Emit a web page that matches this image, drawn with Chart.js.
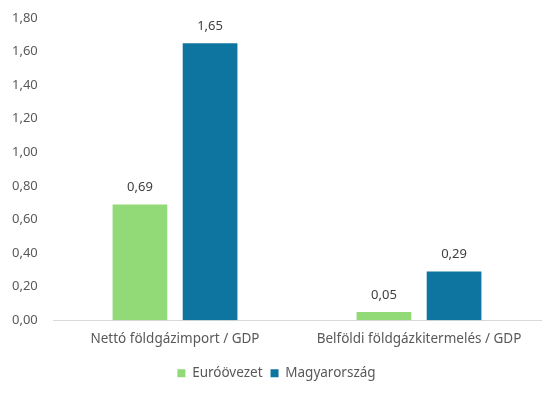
<!DOCTYPE html>
<html>
<head>
<meta charset="utf-8">
<script src="https://cdn.jsdelivr.net/npm/chart.js@4"></script>
<style>
  html, body { margin: 0; padding: 0; background: #fff; }
  #wrap { width: 559px; height: 396px; }
</style>
</head>
<body>
<div id="wrap"><canvas id="chart-gas"></canvas></div>
<script>
const categories   = ['Nettó földgázimport / GDP', 'Belföldi földgázkitermelés / GDP'];
const seriesNames  = ['Euróövezet', 'Magyarország'];
const euroArea     = [0.69, 0.05];
const hungary      = [1.65, 0.29];
const yTicks       = [0, 0.2, 0.4, 0.6, 0.8, 1.0, 1.2, 1.4, 1.6, 1.8];

const FONT = "'Noto Sans', sans-serif";
const fmt = v => v.toFixed(2).replace('.', ',');

// value labels above bars
const barLabels = {
  id: 'barLabels',
  afterDatasetsDraw(chart) {
    const c = chart.ctx;
    c.save();
    c.font = `13px ${FONT}`;
    c.fillStyle = '#404040';
    c.textAlign = 'center';
    c.textBaseline = 'middle';
    chart.data.datasets.forEach((ds, i) => {
      chart.getDatasetMeta(i).data.forEach((bar, j) => {
        c.fillText(fmt(ds.data[j]), bar.x, bar.y - 17);
      });
    });
    c.restore();
  }
};

const ctx = document.getElementById('chart-gas');
new Chart(ctx, {
  type: 'bar',
  data: {
    labels: categories,
    datasets: [
      { label: seriesNames[0], data: euroArea, backgroundColor: '#92D977' },
      { label: seriesNames[1], data: hungary,  backgroundColor: '#0E75A0' },
    ]
  },
  plugins: [barLabels],
  options: {
    responsive: true,
    maintainAspectRatio: false,
    animation: false,
    categoryPercentage: 0.575,
    barPercentage: 0.78,
    layout: { padding: { top: 18, right: 18, left: 12, bottom: 6 } },
    plugins: {
      legend: {
        position: 'bottom',
        labels: {
          boxWidth: 8, boxHeight: 8, padding: 8,
          color: '#595959', font: { family: FONT, size: 13.5 }
        }
      },
      tooltip: { enabled: false }
    },
    scales: {
      x: {
        grid: { display: false, drawTicks: false },
        border: { color: '#d9d9d9' },
        ticks: { color: '#595959', padding: 11, font: { family: FONT, size: 13.5 } }
      },
      y: {
        min: 0, max: 1.8,
        afterBuildTicks: s => { s.ticks = yTicks.map(v => ({ value: v })); },
        afterFit: s => { s.width = 41; },
        grid: { display: false, drawTicks: false },
        border: { display: false },
        ticks: { color: '#595959', padding: 0, crossAlign: 'far', callback: v => fmt(v), font: { family: FONT, size: 13 } }
      }
    }
  }
});
</script>
</body>
</html>
